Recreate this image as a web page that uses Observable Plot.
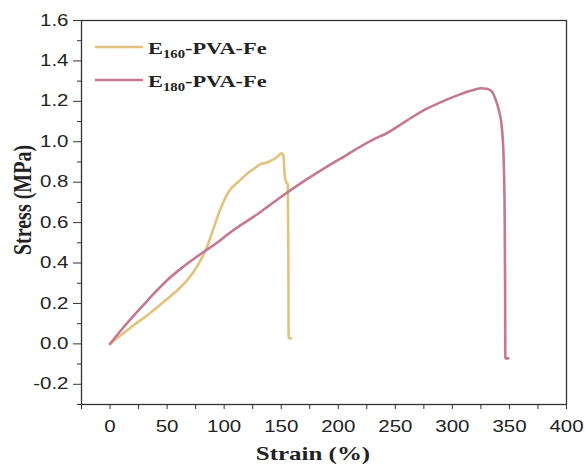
<!DOCTYPE html>
<html>
<head>
<meta charset="utf-8">
<script src="https://cdn.jsdelivr.net/npm/d3@7"></script>
<script src="https://cdn.jsdelivr.net/npm/@observablehq/plot@0.6"></script>
<style>
  html, body { margin: 0; padding: 0; background: #fff; }
  #chart { width: 585px; height: 466px; }
</style>
</head>
<body>
<div id="chart"></div>
<script>
// ---- data ----
const seriesNames = ["E160-PVA-Fe", "E180-PVA-Fe"];
const seriesColors = ["#e2c27c", "#c47891"];

const e160Strain = [0, 10, 20, 30, 40, 50, 60, 68, 76.5, 85, 90, 97, 104, 114, 122, 129, 132, 136, 141, 146, 150.3, 152, 152.9, 154.4, 155.8, 156.3, 156.5, 158.7];
const e160Stress = [0, 0.045, 0.09, 0.13, 0.175, 0.222, 0.27, 0.318, 0.385, 0.48, 0.56, 0.671, 0.753, 0.81, 0.85, 0.878, 0.89, 0.895, 0.906, 0.922, 0.943, 0.93, 0.844, 0.80, 0.79, 0.4, 0.028, 0.028];

const e180Strain = [0, 10, 20, 30, 40, 50, 65, 80, 95, 105, 130, 150, 167, 200, 237, 240, 260, 278, 290, 301, 316, 325, 330, 334, 339, 341, 343.5, 345, 345.8, 346.2, 346.4, 349];
const e180Stress = [0, 0.07, 0.135, 0.197, 0.258, 0.315, 0.385, 0.447, 0.505, 0.55, 0.645, 0.728, 0.794, 0.91, 1.028, 1.035, 1.105, 1.165, 1.196, 1.222, 1.252, 1.265, 1.262, 1.252, 1.19, 1.15, 1.06, 0.9, 0.65, 0.3, -0.072, -0.072];

const xMajorTicks = [0, 50, 100, 150, 200, 250, 300, 350, 400];
const xMinorTicks = [-25, 25, 75, 125, 175, 225, 275, 325, 375];
const yMajorTicks = [-0.2, 0.0, 0.2, 0.4, 0.6, 0.8, 1.0, 1.2, 1.4, 1.6];
const yMinorTicks = [-0.3, -0.1, 0.1, 0.3, 0.5, 0.7, 0.9, 1.1, 1.3, 1.5];

const xLabel = "Strain (%)";
const yLabel = "Stress (MPa)";

// ---- build table ----
const rows = [];
e160Strain.forEach((x, i) => rows.push({series: seriesNames[0], strain: x, stress: e160Stress[i]}));
e180Strain.forEach((x, i) => rows.push({series: seriesNames[1], strain: x, stress: e180Stress[i]}));

const STRETCH = 1.28;
const axisColor = "#333";

const chart = Plot.plot({
  width: 585,
  height: 466,
  marginLeft: 81,
  marginRight: 19,
  marginTop: 20,
  marginBottom: 62,
  style: {background: "#fff", fontFamily: "'Liberation Sans', Arial, sans-serif", color: "#222"},
  x: {domain: [-25, 400], axis: null},
  y: {domain: [-0.3, 1.6], axis: null},
  color: {domain: seriesNames, range: seriesColors},
  marks: [
    Plot.axisY(yMajorTicks, {tickSize: 8, tickPadding: 5, tickFormat: d => d.toFixed(1), fontSize: 16, stroke: axisColor, fill: "#222", label: null}),
    Plot.axisY(yMinorTicks, {tickSize: 4, tickFormat: () => "", stroke: axisColor, label: null}),
    Plot.axisX(xMajorTicks, {tickSize: 5, tickPadding: 11, tickFormat: d => String(d), fontSize: 16, stroke: axisColor, fill: "#222", label: null}),
    Plot.axisX(xMinorTicks, {tickSize: 5, tickFormat: () => "", stroke: axisColor, label: null}),
    Plot.line(rows, {x: "strain", y: "stress", z: "series", stroke: "series", strokeWidth: 2.6, strokeLinejoin: "round", strokeLinecap: "round", curve: "monotone-x"}),
    Plot.frame({stroke: axisColor, strokeWidth: 1.3})
  ]
});

document.getElementById("chart").appendChild(chart);
const svg = d3.select(chart);

// stretch existing tick labels horizontally (reference is horizontally stretched)
const num = v => { const n = parseFloat(v); return (v != null && /^-?[\d.]+$/.test(String(v).trim()) && isFinite(n)) ? n : 0; };
svg.selectAll("text").each(function() {
  const t = this.getAttribute("transform") || "";
  const x = num(this.getAttribute("x")), y = num(this.getAttribute("y"));
  this.setAttribute("transform", `${t} translate(${x},${y}) scale(${STRETCH},1) translate(${-x},${-y})`);
});

const serif = "'Liberation Serif', 'Times New Roman', serif";

// axis titles
svg.append("text")
  .attr("transform", `translate(31,200) scale(${STRETCH},1) rotate(-90)`)
  .attr("text-anchor", "middle")
  .attr("font-family", serif).attr("font-weight", "bold").attr("font-size", 20).attr("fill", "#222")
  .text(yLabel);

svg.append("text")
  .attr("transform", `translate(313,460) scale(${STRETCH},1)`)
  .attr("text-anchor", "middle")
  .attr("font-family", serif).attr("font-weight", "bold").attr("font-size", 19.5).attr("fill", "#222")
  .text(xLabel);

// legend
const legendY = [47, 80];
seriesNames.forEach((name, i) => {
  svg.append("line")
    .attr("x1", 95).attr("x2", 143).attr("y1", legendY[i]).attr("y2", legendY[i])
    .attr("stroke", seriesColors[i]).attr("stroke-width", 2.6);
  const m = name.match(/^E(\d+)(.*)$/);
  const t = svg.append("text")
    .attr("transform", `translate(148,${legendY[i] + 7}) scale(${STRETCH},1)`)
    .attr("text-anchor", "start")
    .attr("font-family", serif).attr("font-weight", "bold").attr("font-size", 17.5).attr("fill", "#222");
  t.append("tspan").text("E");
  t.append("tspan").attr("font-size", 11.5).attr("dy", 4).text(m[1]);
  t.append("tspan").attr("dy", -4).text(m[2]);
});
</script>
</body>
</html>
